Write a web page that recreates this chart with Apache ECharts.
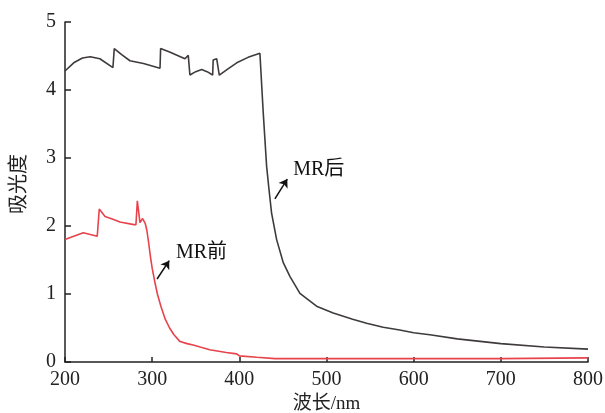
<!DOCTYPE html>
<html><head><meta charset="utf-8">
<script src="https://cdn.jsdelivr.net/npm/echarts@6/dist/echarts.min.js"></script>
<style>html,body{margin:0;padding:0;background:#fff}#c{width:605px;height:413px}</style>
</head><body><div id="c"></div>
<script>
// MR后 (after)
const afterNm  = [200,210,220,229,240,255,256.5,265,274.5,290,309,309.7,320,337.6,341.4,343.3,350,356.8,363,369.4,370,374,377,387,397,410,423.6,425,427.4,431.3,434,437,442.8,450.4,458,469.5,488.6,507.7,530,546,565,584,600,618.6,650,700,750,800];
const afterVal = [4.28,4.40,4.47,4.49,4.46,4.33,4.61,4.52,4.43,4.39,4.32,4.61,4.56,4.46,4.51,4.22,4.27,4.30,4.27,4.22,4.44,4.46,4.22,4.31,4.40,4.48,4.54,4.54,3.67,2.88,2.54,2.19,1.80,1.46,1.26,1.01,0.82,0.72,0.63,0.57,0.51,0.47,0.43,0.40,0.34,0.27,0.22,0.19];
// MR前 (before)
const beforeNm  = [200,210,221,237,239.3,245.9,255,263,279,281.4,283,286,289,292,294,296,298,300,303,306,310,315,320,325,332,340,347,355,366,385,397,400,420,441,500,600,700,800];
const beforeVal = [1.80,1.85,1.90,1.85,2.25,2.14,2.10,2.06,2.02,2.02,2.37,2.05,2.11,2.04,1.93,1.75,1.55,1.38,1.18,1.00,0.82,0.63,0.50,0.40,0.30,0.27,0.25,0.22,0.18,0.14,0.12,0.09,0.07,0.05,0.05,0.05,0.05,0.06];
const xTicks = [200,300,400,500,600,700,800];
const yTicks = [0,1,2,3,4,5];
const labelAfter = 'MR后', labelBefore = 'MR前';

const zip = (a,b)=>a.map((v,i)=>[v,b[i]]);
const serif = "'Liberation Serif','Times New Roman','Noto Sans CJK SC',serif";
const chart = echarts.init(document.getElementById('c'));
chart.setOption({
  animation:false,
  backgroundColor:'#fff',
  grid:{left:65,right:17,top:22,bottom:51,containLabel:false,outerBoundsMode:'none'},
  xAxis:{type:'value',min:200,max:800,interval:100,
    name:'波长/nm',nameLocation:'middle',nameGap:31,
    nameTextStyle:{fontFamily:serif,fontSize:19,color:'#222'},
    axisLine:{lineStyle:{color:'#222',width:1.5}},
    axisTick:{inside:true,length:5,lineStyle:{color:'#222',width:1.5}},
    axisLabel:{fontFamily:serif,fontSize:20,color:'#222',margin:8,formatter:v=>xTicks.includes(v)?String(v):''},
    splitLine:{show:false}},
  yAxis:{type:'value',min:0,max:5,interval:1,
    name:'吸光度',nameLocation:'middle',nameGap:35,nameRotate:90,
    nameTextStyle:{fontFamily:serif,fontSize:20,color:'#222',padding:[0,0,0,16]},
    axisLine:{show:true,lineStyle:{color:'#222',width:1.5}},
    axisTick:{show:true,inside:true,length:6,lineStyle:{color:'#222',width:1.5}},
    axisLabel:{fontFamily:serif,fontSize:20,color:'#222',margin:9,formatter:v=>yTicks.includes(v)?String(v):''},
    splitLine:{show:false}},
  series:[
    {type:'line',data:zip(afterNm,afterVal),showSymbol:false,symbol:'none',
     lineStyle:{color:'#3f3b3d',width:1.6},
     markLine:{silent:true,symbol:['none','arrow'],symbolSize:8,
       lineStyle:{color:'#111',width:1.5,type:'solid'},label:{show:false},
       data:[[{coord:[440.8,2.40]},{coord:[455,2.69]}]]},
     markPoint:{silent:true,symbol:'circle',symbolSize:0,
       label:{show:true,position:'right',distance:0,formatter:labelAfter,fontFamily:serif,fontSize:20,color:'#111'},
       data:[{coord:[461.8,2.83]}]}},
    {type:'line',data:zip(beforeNm,beforeVal),showSymbol:false,symbol:'none',
     lineStyle:{color:'#e8434b',width:1.6},
     markLine:{silent:true,symbol:['none','arrow'],symbolSize:8,
       lineStyle:{color:'#111',width:1.5,type:'solid'},label:{show:false},
       data:[[{coord:[305.6,1.22]},{coord:[319.6,1.49]}]]},
     markPoint:{silent:true,symbol:'circle',symbolSize:0,
       label:{show:true,position:'right',distance:0,formatter:labelBefore,fontFamily:serif,fontSize:20,color:'#111'},
       data:[{coord:[327.3,1.61]}]}}
  ]
});
</script></body></html>
